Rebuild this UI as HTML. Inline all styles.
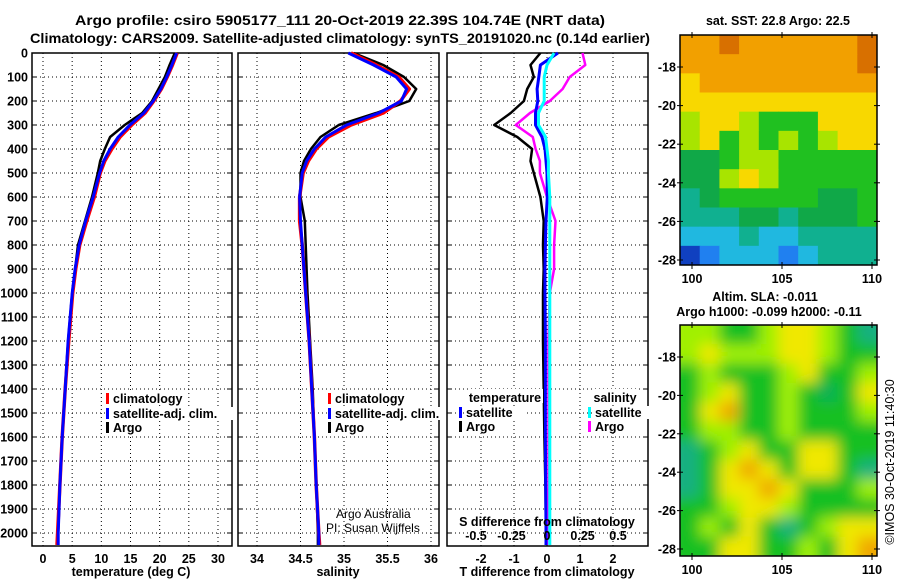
<!DOCTYPE html>
<html><head><meta charset="utf-8">
<style>
html,body{margin:0;padding:0;background:#fff;}
svg{display:block;font-family:"Liberation Sans",Arial,sans-serif;}
.b{font-weight:bold;}
</style></head>
<body>
<svg id="chart" width="900" height="580" viewBox="0 0 900 580" xmlns="http://www.w3.org/2000/svg">
<defs>
<filter id="blur" x="0" y="0" width="1" height="1"><feGaussianBlur stdDeviation="7"/></filter>
<clipPath id="clipMap1"><rect x="680" y="35" width="197" height="230"/></clipPath>
<clipPath id="clipMap2"><rect x="680" y="325" width="197" height="231"/></clipPath>
</defs>
<text x="340" y="25" text-anchor="middle" class="b" font-size="14" textLength="530" lengthAdjust="spacingAndGlyphs">Argo profile: csiro 5905177_111 20-Oct-2019 22.39S 104.74E (NRT data)</text>
<text x="340" y="43" text-anchor="middle" class="b" font-size="14" textLength="620" lengthAdjust="spacingAndGlyphs">Climatology: CARS2009. Satellite-adjusted climatology: synTS_20191020.nc (0.14d earlier)</text>
<g id="g"></g>
</svg>
<script>
// ---- data ----
const depths = [0,50,100,150,200,250,300,350,400,450,500,600,700,800,900,1000,1200,1400,1600,1800,2000,2050];
const tempClim = [23.0,22.2,21.3,20.3,19.0,17.5,15.2,13.2,11.8,10.6,9.8,8.8,7.5,6.3,5.6,5.1,4.4,3.8,3.3,2.9,2.5,2.4];
const tempSat  = [22.9,22.1,21.2,20.2,18.9,17.3,14.9,12.9,11.5,10.4,9.7,8.6,7.3,6.2,5.5,5.0,4.3,3.8,3.3,2.9,2.6,2.6];
const tempArgo = [22.6,21.7,20.9,19.8,18.7,17.0,14.0,11.5,10.6,9.8,9.4,8.4,7.2,6.0,5.5,5.0,4.3,3.8,3.3,2.9,2.6,2.6];
const salClim = [35.08,35.37,35.63,35.75,35.65,35.45,35.08,34.82,34.68,34.59,34.53,34.49,34.49,34.52,34.54,34.56,34.60,34.63,34.66,34.68,34.71,34.72];
const salSat  = [35.05,35.34,35.60,35.72,35.66,35.40,35.03,34.79,34.66,34.57,34.52,34.49,34.50,34.52,34.54,34.56,34.60,34.63,34.66,34.68,34.71,34.71];
const salArgo = [35.11,35.45,35.69,35.83,35.75,35.37,34.94,34.73,34.62,34.54,34.50,34.50,34.55,34.56,34.57,34.58,34.61,34.64,34.66,34.68,34.70,34.70];
const dTArgo = [-0.2,-0.5,-0.4,-0.6,-0.7,-1.1,-1.6,-0.9,-0.45,-0.5,-0.4,-0.2,-0.1,-0.12,-0.1,-0.12,-0.12,-0.1,-0.08,-0.05,-0.03,-0.03];
const dTSat  = [0.33,-0.2,-0.25,-0.3,-0.28,-0.35,-0.35,-0.15,-0.06,-0.03,0,0.01,-0.03,-0.05,-0.06,-0.06,-0.05,-0.05,-0.05,-0.04,-0.03,-0.03];
const dSArgo = [0.25,0.27,0.16,0.11,0.02,-0.12,-0.22,-0.10,-0.08,-0.05,-0.05,0,0.06,0.05,0.05,0.02,0.01,0.01,0.01,0.01,0.0,0.0];
const dSSat  = [0.05,0,-0.02,-0.02,-0.02,-0.06,-0.06,-0.01,0,0.01,0.01,0.02,0.02,0.02,0.02,0.02,0.02,0.02,0.02,0.02,0.02,0.02];
const depthTicks = [0,100,200,300,400,500,600,700,800,900,1000,1100,1200,1300,1400,1500,1600,1700,1800,1900,2000];
const tempTicks = [0,5,10,15,20,25,30];
const salTicks = [34,34.5,35,35.5,36];
const dTTicks = [-2,-1,0,1,2];
const dSTicks = [-0.5,-0.25,0,0.25,0.5];
const latTicks = [-18,-20,-22,-24,-26,-28];
const lonTicks = [100,105,110];
const sstGrid = ["OODOOOOOOD","OOOOOOOOOD","YOOOOOOOOO","YYYYYYYYYY","LYYLGGGYYY","LYGLGLGLYY","EEGLLGGGGG","EELYLGGGGG","TEGGGGGEEG","TTTEETEEEG","CCCTCCTTTT","NBCCCBCTTT"];
const slaGrid = ["LLGGLYYLGT","LYLLLYYLGG","GLGGGLYGGL","GLYGGLGEGY","GYOGGLGGGL","GLLGGLGGGG","TGLYGGYYGG","TGYOYGYYGT","TGYYOYGGGL","GGLYYLGGGG","GLGYGTGLYY","GGYYGGLGYO"];

const NS="http://www.w3.org/2000/svg";
const G=document.getElementById('g');
function mk(tag,attrs,parent){const e=document.createElementNS(NS,tag);for(const k in attrs)e.setAttribute(k,attrs[k]);(parent||G).appendChild(e);return e;}
function txt(x,y,s,anchor,size,bold,parent){const e=mk('text',{x:x,y:y,'text-anchor':anchor||'middle','font-size':size||12.5,'font-weight':bold===false?'normal':'bold'},parent);e.textContent=s;return e;}

const top0=53, yScale=v=>53+v*0.24, bottom=546;
function panel(name,x0,x1,xs,xticks,fmt,gridTicks){
  const g=mk('g',{});
  
  
  gridTicks.forEach(t=>{const x=xs(t);mk('line',{x1:x,x2:x,y1:top0,y2:bottom,stroke:'#000','stroke-width':1,'stroke-dasharray':'1,3'},g);});
  depthTicks.forEach(d=>{const y=yScale(d);mk('line',{x1:x0,x2:x1,y1:y,y2:y,stroke:'#000','stroke-width':1,'stroke-dasharray':'1,3'},g);
    mk('line',{x1:x0,x2:x0+5,y1:y,y2:y,stroke:'#000'},g);mk('line',{x1:x1-5,x2:x1,y1:y,y2:y,stroke:'#000'},g);});
  mk('rect',{x:x0,y:top0,width:x1-x0,height:bottom-top0,fill:'none',stroke:'#000','stroke-width':1.5},g);
  if(xticks) xticks.forEach(t=>{txt(xs(t),563,fmt(t),'middle',12.5,true,g);});
  return g;
}
function line(g,xs,vals,color,w,name){
  const pts=vals.map((v,i)=>xs(v).toFixed(1)+','+yScale(depths[i]).toFixed(1)).join(' ');
  const p=mk('polyline',{points:pts,fill:'none',stroke:color,'stroke-width':w,'stroke-linejoin':'round'},g);
  
  
}
function legend(g,x,y,color,label,name){
  const l=mk('g',{},g);
  
  
  mk('rect',{x:x,y:y-10,width:3,height:11,fill:color},l);
  mk('rect',{x:x+6,y:y-11,width:label.length*6.6,height:13,fill:'#fff'},l);
  txt(x+7,y,label,'start',12.5,true,l);
}
const yl=mk('g',{});


depthTicks.forEach(d=>txt(28,yScale(d)+4.5,String(d),'end',12.5,true,yl));

const xT=v=>43+v*5.833;
const p1=panel('temperature-panel',32,232,xT,tempTicks,t=>String(t),tempTicks);
line(p1,xT,tempArgo,'#000',2.5,'temp-argo-line');
line(p1,xT,tempClim,'#f00',3.5,'temp-climatology-line');
line(p1,xT,tempSat,'#00f',3,'temp-satellite-line');
legend(p1,106,403,'#f00','climatology','legend-climatology');
legend(p1,106,418,'#00f','satellite-adj. clim.','legend-satellite');
legend(p1,106,432,'#000','Argo','legend-argo');
txt(131,576,'temperature (deg C)','middle',12.5,true,p1);

const xS=v=>257+(v-34)*87;
const p2=panel('salinity-panel',238,439,xS,salTicks,t=>String(t),salTicks);
line(p2,xS,salArgo,'#000',2.5,'sal-argo-line');
line(p2,xS,salClim,'#f00',3.5,'sal-climatology-line');
line(p2,xS,salSat,'#00f',3,'sal-satellite-line');
legend(p2,328,403,'#f00','climatology','legend-climatology-sal');
legend(p2,328,418,'#00f','satellite-adj. clim.','legend-satellite-sal');
legend(p2,328,432,'#000','Argo','legend-argo-sal');
txt(336,518,'Argo Australia','start',12,false,p2);
txt(326,532,'PI: Susan Wijffels','start',12,false,p2);
txt(338,576,'salinity','middle',12.5,true,p2);

const xD=v=>547+v*33;
const xDS=v=>547+v*142;
const p3=panel('difference-panel',447,648,xD,dTTicks,t=>String(t),dTTicks);
line(p3,xD,dTArgo,'#000',2.5,'dT-argo-line');
line(p3,xDS,dSArgo,'#f0f',2.5,'dS-argo-line');
line(p3,xD,dTSat,'#00f',3,'dT-satellite-line');
line(p3,xDS,dSSat,'#0ff',3,'dS-satellite-line');
mk('rect',{x:468,y:389,width:75,height:14,fill:'#fff'},p3);
txt(505,402,'temperature','middle',12.5,true,p3);
mk('rect',{x:592,y:389,width:45,height:14,fill:'#fff'},p3);
txt(615,402,'salinity','middle',12.5,true,p3);
legend(p3,459,417,'#00f','satellite','legend-dT-satellite');
legend(p3,459,431,'#000','Argo','legend-dT-argo');
legend(p3,588,417,'#0ff','satellite','legend-dS-satellite');
legend(p3,588,431,'#f0f','Argo','legend-dS-argo');
txt(547,526,'S difference from climatology','middle',12.5,true,p3);
dSTicks.forEach(t=>txt(xDS(t),540,String(t),'middle',12.5,true,p3));
txt(547,576,'T difference from climatology','middle',12.5,true,p3);

const colors={D:'#d87000',O:'#f2a000',Y:'#f8d800',L:'#a8e400',G:'#20c020',E:'#10a848',T:'#10b090',C:'#20b8e0',B:'#2080f0',N:'#1040c0'};
const colors2={O:'#f0a800',Y:'#f0e800',L:'#a0f000',G:'#18c020',E:'#10b058',T:'#18b080'};
function map(name,gridData,pal,x0,y0,w,h,lat18,lat28,blur,clip){
  const g=mk('g',{});
  
  
  const inner=mk('g',{'clip-path':'url(#'+clip+')'},g);
  const cg=mk('g',blur?{filter:'url(#blur)'}:{},inner);
  const rows=gridData.length, cols=gridData[0].length;
  const cw=w/cols, ch=h/rows;
  const pad=blur?12:0;
  gridData.forEach((r,ri)=>{for(let ci=0;ci<cols;ci++){
    const c=mk('rect',{x:x0+ci*cw-(ci==0?pad:0),y:y0+ri*ch-(ri==0?pad:0),width:cw+0.6+(ci==0||ci==cols-1?pad:0),height:ch+0.6+(ri==0||ri==rows-1?pad:0),fill:pal[r[ci]]},cg);
    
    
  }});
  mk('rect',{x:x0,y:y0,width:w,height:h,fill:'none',stroke:'#000','stroke-width':1.5},g);
  const lonX=v=>692+(v-100)*18;
  const latY=v=>lat18+(v+18)*(lat28-lat18)/(-10);
  latTicks.forEach(t=>{const y=latY(t);mk('line',{x1:x0-3,x2:x0+3,y1:y,y2:y,stroke:'#000'},g);mk('line',{x1:x0+w-3,x2:x0+w+3,y1:y,y2:y,stroke:'#000'},g);
    txt(x0-4,y+4.5,String(t),'end',12.5,true,g);});
  lonTicks.forEach(t=>{const x=lonX(t);mk('line',{x1:x,x2:x,y1:y0-3,y2:y0+3,stroke:'#000'},g);mk('line',{x1:x,x2:x,y1:y0+h-3,y2:y0+h+4,stroke:'#000'},g);
    txt(x,y0+h+18,String(t),'middle',12.5,true,g);});
  return g;
}
map('sst-map',sstGrid,colors,680,35,197,230,67,260,false,'clipMap1');
map('sla-map',slaGrid,colors2,680,325,197,231,357,549,true,'clipMap2');
txt(778,25,'sat. SST: 22.8 Argo: 22.5','middle',12.5,true);
txt(765,301,'Altim. SLA: -0.011','middle',12.5,true);
txt(769,316,'Argo h1000: -0.099 h2000: -0.11','middle',12.5,true);
const ts=txt(0,0,'©IMOS 30-Oct-2019 11:40:30','middle',12.5,false);
ts.setAttribute('transform','translate(894,462) rotate(-90)');

</script>
</body></html>
